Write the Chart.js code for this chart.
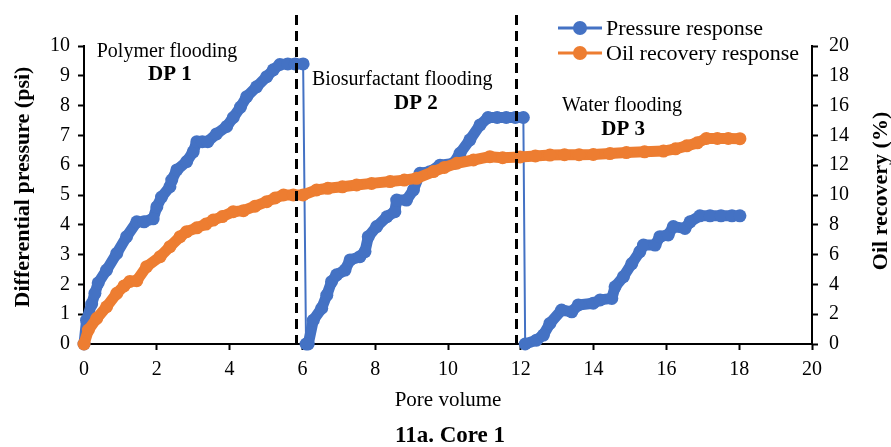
<!DOCTYPE html>
<html>
<head>
<meta charset="utf-8">
<script src="https://cdn.jsdelivr.net/npm/chart.js@4.4.0/dist/chart.umd.min.js"></script>
<style>
  html, body { margin: 0; padding: 0; background: #fff; }
  #wrap { width: 891px; height: 447px; }
</style>
</head>
<body>
<div id="wrap"><canvas id="chart"></canvas></div>
<script>
// Pressure response: pore volume vs differential pressure (psi)
const pvPressure = [0, 0.07, 0.21, 0.3, 0.39, 0.62, 0.9, 1.17, 1.45, 1.65, 1.9, 2.0, 2.13, 2.36, 2.41, 2.55, 2.82, 3.0, 3.1, 3.25,
  3.4, 3.64, 3.92, 4.1, 4.3, 4.47, 4.74, 5.02, 5.2, 5.38, 5.6, 5.8, 6.02, 6.1, 6.16, 6.3, 6.53, 6.67, 6.8, 6.94,
  7.17, 7.31, 7.58, 7.72, 7.81, 8.04, 8.32, 8.54, 8.59, 8.86, 9.05, 9.23, 9.5, 9.78, 10.15, 10.33, 10.6, 10.88, 11.1, 11.35,
  11.6, 11.85, 12.07, 12.12, 12.43, 12.62, 12.8, 13.12, 13.4, 13.58, 13.99, 14.18, 14.5, 14.59, 14.82, 15.05, 15.27, 15.37, 15.69, 15.82,
  16.05, 16.19, 16.51, 16.65, 16.92, 17.2, 17.5, 17.8, 18.02];
const pressure = [0, 0.8, 1.34, 1.7, 2.05, 2.48, 3.04, 3.6, 4.1, 4.1, 4.2, 4.6, 4.93, 5.28, 5.5, 5.84, 6.12, 6.45, 6.79, 6.79,
  6.79, 7.05, 7.3, 7.6, 7.95, 8.3, 8.63, 8.97, 9.2, 9.38, 9.4, 9.4, 9.4, 0, 0, 0.8, 1.2, 1.64, 2.09, 2.32,
  2.48, 2.82, 2.93, 3.1, 3.6, 3.94, 4.27, 4.44, 4.83, 4.83, 5.17, 5.73, 5.78, 6.0, 6.06, 6.4, 6.85, 7.35, 7.6, 7.6,
  7.6, 7.6, 7.6, 0, 0.13, 0.3, 0.69, 1.14, 1.08, 1.31, 1.37, 1.48, 1.53, 1.92, 2.26, 2.7, 3.1, 3.32, 3.32, 3.6,
  3.66, 3.94, 3.88, 4.1, 4.3, 4.3, 4.3, 4.3, 4.3];

// Oil recovery response: pore volume vs recovery (%)
const pvRecovery = [0, 0.12, 0.35, 0.62, 0.9, 1.1, 1.26, 1.45, 1.72, 2.09, 2.36, 2.64, 2.82, 3.1, 3.35, 3.55, 3.8, 4.1, 4.38, 4.7,
  5.02, 5.25, 5.48, 5.75, 6.02, 6.39, 6.7, 7.1, 7.49, 7.9, 8.41, 8.8, 9.14, 9.6, 9.9, 10.24, 10.7, 11.15, 11.5, 11.98,
  12.4, 12.8, 13.2, 13.6, 13.99, 14.45, 14.9, 15.4, 15.92, 16.25, 16.56, 16.85, 17.1, 17.4, 17.7, 18.02];
const recovery = [0, 0.94, 1.72, 2.5, 3.4, 3.9, 4.2, 4.25, 5.19, 5.86, 6.53, 7.2, 7.54, 7.8, 8.05, 8.32, 8.55, 8.88, 8.95, 9.25,
  9.55, 9.8, 10.0, 10.0, 10.0, 10.34, 10.45, 10.55, 10.67, 10.78, 10.9, 11.0, 11.12, 11.57, 11.85, 12.13, 12.35, 12.57, 12.5, 12.55,
  12.62, 12.68, 12.7, 12.7, 12.72, 12.78, 12.85, 12.9, 12.95, 13.1, 13.3, 13.5, 13.8, 13.8, 13.8, 13.78];

// tick labels
const pvTicks = [0, 2, 4, 6, 8, 10, 12, 14, 16, 18, 20];
const pressureTicks = [0, 1, 2, 3, 4, 5, 6, 7, 8, 9, 10];
const recoveryTicks = [0, 2, 4, 6, 8, 10, 12, 14, 16, 18, 20];

// flooding stages: boundary pore volumes and labels
const phaseBoundaries = [5.82, 11.87];
const phaseNames = ["Polymer flooding", "Biosurfactant flooding", "Water flooding"];
const phaseTags = ["DP 1", "DP 2", "DP 3"];

const FONT = "'Liberation Serif', 'Times New Roman', serif";
const BLUE = "#4472C4";
const ORANGE = "#ED7D31";

// label anchors in data units (pv, psi): name then tag
const labelAnchors = [[2.28, 9.8, 2.36, 9.03], [8.74, 8.87, 9.12, 8.06], [14.78, 7.99, 14.81, 7.2]];

const toPoints = (xs, ys) => xs.map((v, i) => ({ x: v, y: ys[i] }));
const setTicks = (arr) => (scale) => { scale.ticks = arr.map((v) => ({ value: v })); };

// thin line for the vertical drops, thick band elsewhere (dense markers look)
const bandWidth = (c) => (Math.abs(c.p1.parsed.y - c.p0.parsed.y) > 3 ? 2 : 11);

function rotatedText(ctx, text, x, y) {
  ctx.save();
  ctx.translate(x, y);
  ctx.rotate(-Math.PI / 2);
  ctx.fillText(text, 0, 0);
  ctx.restore();
}

const overlay = {
  id: "overlay",
  afterDatasetsDraw(chart) {
    const { ctx, scales: { x, y } } = chart;
    ctx.save();
    ctx.strokeStyle = "#000";
    ctx.lineWidth = 3;
    ctx.setLineDash([10, 6]);
    phaseBoundaries.forEach((v) => {
      const px = Math.round(x.getPixelForValue(v)) + 0.5;
      ctx.beginPath();
      ctx.moveTo(px, 15);
      ctx.lineTo(px, y.bottom);
      ctx.stroke();
    });
    ctx.setLineDash([]);
    ctx.fillStyle = "#000";
    ctx.textAlign = "center";
    ctx.textBaseline = "middle";
    labelAnchors.forEach((a, i) => {
      ctx.font = `20px ${FONT}`;
      ctx.fillText(phaseNames[i], x.getPixelForValue(a[0]), y.getPixelForValue(a[1]));
      ctx.font = `bold 21px ${FONT}`;
      ctx.fillText(phaseTags[i], x.getPixelForValue(a[2]), y.getPixelForValue(a[3]));
    });
    ctx.restore();
  },
  afterDraw(chart) {
    const { ctx, chartArea } = chart;
    ctx.save();
    // legend, Excel style: line with a marker in the middle
    const items = [["Pressure response", BLUE], ["Oil recovery response", ORANGE]];
    ctx.font = `22px ${FONT}`;
    ctx.textBaseline = "middle";
    ctx.textAlign = "left";
    items.forEach(([text, color], i) => {
      const ly = 28 + i * 25;
      ctx.strokeStyle = color;
      ctx.fillStyle = color;
      ctx.lineWidth = 3;
      ctx.beginPath();
      ctx.moveTo(558, ly);
      ctx.lineTo(602, ly);
      ctx.stroke();
      ctx.beginPath();
      ctx.arc(580, ly, 7, 0, Math.PI * 2);
      ctx.fill();
      ctx.fillStyle = "#000";
      ctx.fillText(text, 606, ly + 1);
    });
    // axis titles and caption
    ctx.fillStyle = "#000";
    ctx.textAlign = "center";
    ctx.font = `bold 22px ${FONT}`;
    rotatedText(ctx, "Differential pressure (psi)", 23, 187);
    rotatedText(ctx, "Oil recovery (%)", 881, 191);
    ctx.font = `bold 23px ${FONT}`;
    ctx.fillText("11a. Core 1", (chartArea.left + chartArea.right) / 2 + 2, 436);
    ctx.restore();
  },
};

const tickFont = { family: FONT, size: 20 };
const axisGrid = { drawOnChartArea: false, drawTicks: true, tickLength: 6, tickColor: "#000", tickWidth: 2 };
const axisBorder = { display: true, color: "#000", width: 2 };

new Chart(document.getElementById("chart"), {
  type: "line",
  data: {
    datasets: [
      {
        label: "Pressure response",
        data: toPoints(pvPressure, pressure),
        yAxisID: "y",
        borderColor: BLUE,
        backgroundColor: BLUE,
        borderWidth: 11,
        borderJoinStyle: "round",
        borderCapStyle: "round",
        pointRadius: 6.5,
        pointBorderWidth: 0,
        segment: { borderWidth: bandWidth },
        clip: false,
        order: 1,
      },
      {
        label: "Oil recovery response",
        data: toPoints(pvRecovery, recovery),
        yAxisID: "y2",
        borderColor: ORANGE,
        backgroundColor: ORANGE,
        borderWidth: 11,
        borderJoinStyle: "round",
        borderCapStyle: "round",
        pointRadius: 6.5,
        pointBorderWidth: 0,
        clip: false,
        order: 0,
      },
    ],
  },
  options: {
    responsive: true,
    maintainAspectRatio: false,
    animation: false,
    layout: { padding: { top: 46, left: 0, right: 0, bottom: 0 } },
    plugins: {
      legend: { display: false },
      tooltip: { enabled: false },
    },
    scales: {
      x: {
        type: "linear",
        min: 0,
        max: 20,
        afterBuildTicks: setTicks(pvTicks),
        afterFit: (s) => { s.height = 103; },
        ticks: { font: tickFont, color: "#000", padding: 8, maxRotation: 0 },
        grid: axisGrid,
        border: axisBorder,
        title: {
          display: true,
          text: "Pore volume",
          color: "#000",
          font: { family: FONT, size: 21 },
          padding: { top: 0, bottom: 34 },
        },
      },
      y: {
        position: "left",
        min: 0,
        max: 10,
        afterBuildTicks: setTicks(pressureTicks),
        afterFit: (s) => { s.width = 84; },
        ticks: { font: tickFont, color: "#000", padding: 8 },
        grid: axisGrid,
        border: axisBorder,
      },
      y2: {
        position: "right",
        min: 0,
        max: 20,
        afterBuildTicks: setTicks(recoveryTicks),
        afterFit: (s) => { s.width = 79; },
        ticks: { font: tickFont, color: "#000", padding: 11 },
        grid: axisGrid,
        border: axisBorder,
      },
    },
  },
  plugins: [overlay],
});
</script>
</body>
</html>
